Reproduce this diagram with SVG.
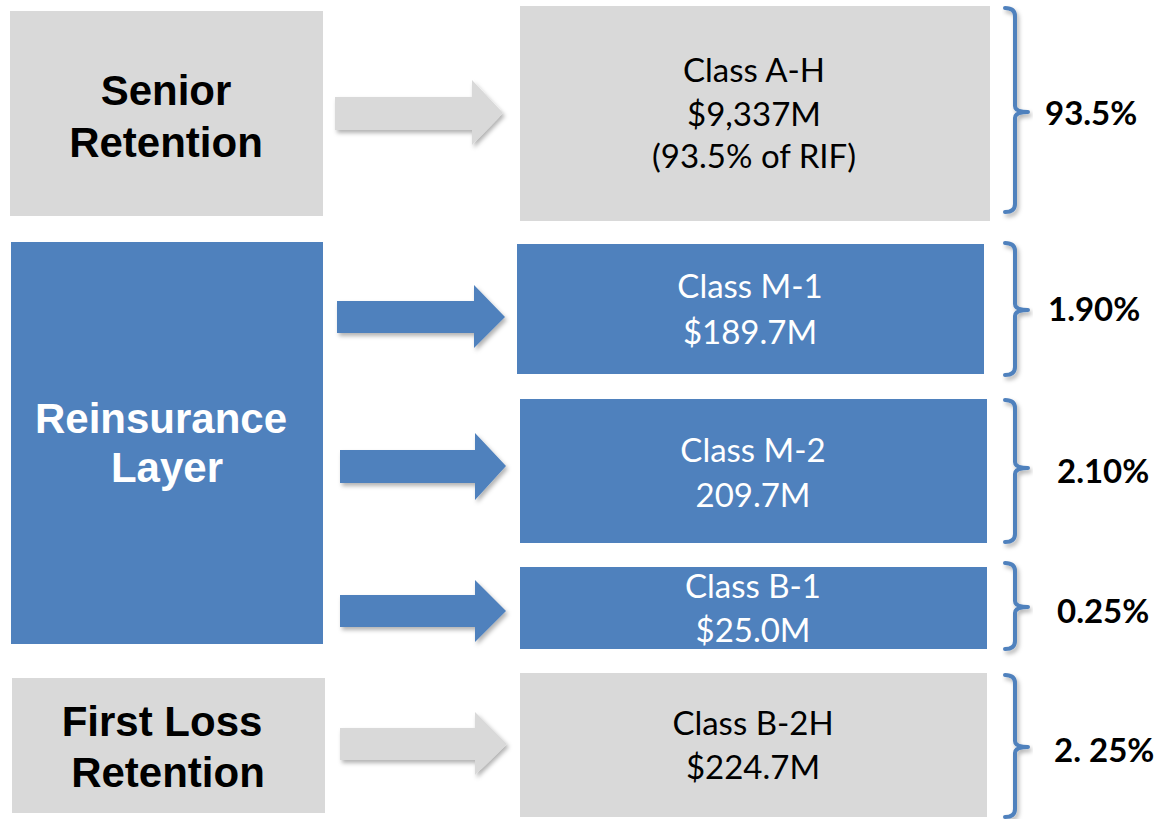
<svg xmlns="http://www.w3.org/2000/svg" width="1155" height="819" viewBox="0 0 1155 819">
<defs>
<filter id="sh" x="-10%" y="-10%" width="130%" height="130%">
<feDropShadow dx="2" dy="3" stdDeviation="2" flood-color="#000" flood-opacity="0.3"/>
</filter>
<style>
.gray{fill:#D9D9D9}
.blue{fill:#4F81BD}
.lt{font-family:"Liberation Sans",Arial,sans-serif;font-weight:bold;font-size:42px;text-anchor:middle}
.ct{font-family:Lato,"Open Sans",sans-serif;font-size:33px;text-anchor:middle}
.pt{font-family:Lato,"Open Sans",sans-serif;font-weight:bold;font-size:33px}
.brace{fill:none;stroke:#4F81BD;stroke-width:4;stroke-linecap:round;stroke-linejoin:round}
</style>
</defs>
<rect width="1155" height="819" fill="#fff"/>

<g id="senior-retention">
<rect class="gray" x="10" y="11" width="313" height="205"/>
<text class="lt" x="166" y="105" fill="#000">Senior</text>
<text class="lt" x="166" y="157" fill="#000">Retention</text>
</g>
<g id="reinsurance-layer">
<rect class="blue" x="11" y="242" width="312" height="402"/>
<text class="lt" x="161" y="433" fill="#fff">Reinsurance</text>
<text class="lt" x="167" y="482" fill="#fff">Layer</text>
</g>
<g id="first-loss-retention">
<rect class="gray" x="12" y="678" width="313" height="135"/>
<text class="lt" x="162" y="736" fill="#000">First Loss</text>
<text class="lt" x="168" y="787" fill="#000">Retention</text>
</g>

<g id="class-a-h">
<rect class="gray" x="520" y="6" width="470" height="215"/>
<text class="ct" x="754" y="82" fill="#000">Class A-H</text>
<text class="ct" x="754" y="126" fill="#000">$9,337M</text>
<text class="ct" x="754" y="168" fill="#000">(93.5% of RIF)</text>
</g>
<g id="class-m-1">
<rect class="blue" x="517" y="244" width="467" height="130"/>
<text class="ct" x="750" y="298" fill="#fff">Class M-1</text>
<text class="ct" x="750" y="344" fill="#fff">$189.7M</text>
</g>
<g id="class-m-2">
<rect class="blue" x="520" y="399" width="467" height="144"/>
<text class="ct" x="753" y="462" fill="#fff">Class M-2</text>
<text class="ct" x="753" y="507" fill="#fff">209.7M</text>
</g>
<g id="class-b-1">
<rect class="blue" x="520" y="567" width="467" height="82"/>
<text class="ct" x="753" y="598" fill="#fff">Class B-1</text>
<text class="ct" x="753" y="642" fill="#fff">$25.0M</text>
</g>
<g id="class-b-2h">
<rect class="gray" x="520" y="673" width="467" height="144"/>
<text class="ct" x="753" y="735" fill="#000">Class B-2H</text>
<text class="ct" x="753" y="779" fill="#000">$224.7M</text>
</g>

<g id="connectors">
<path class="gray" filter="url(#sh)" d="M335,97 H472 V80 L503,113 L472,145 V130 H335 Z"/>
<path class="blue" filter="url(#sh)" d="M337,301 H474 V285 L505,317 L474,348 V333 H337 Z"/>
<path class="blue" filter="url(#sh)" d="M340,450 H475 V433 L506,466 L475,500 V483 H340 Z"/>
<path class="blue" filter="url(#sh)" d="M340,595 H475 V580 L506,611 L475,642 V627 H340 Z"/>
<path class="gray" filter="url(#sh)" d="M340,728 H475 V712 L507,744 L475,775 V760 H340 Z"/>
</g>

<g id="braces" filter="url(#sh)">
<path class="brace" d="M1005,8 Q1015,8 1015,16 V106 Q1015,112 1028,112 Q1015,112 1015,118 V204 Q1015,212 1005,212"/>
<path class="brace" d="M1005,243 Q1015,243 1015,251 V304 Q1015,310 1028,310 Q1015,310 1015,316 V367 Q1015,375 1005,375"/>
<path class="brace" d="M1005,400 Q1015,400 1015,408 V462 Q1015,468 1028,468 Q1015,468 1015,474 V534 Q1015,542 1005,542"/>
<path class="brace" d="M1005,563 Q1015,563 1015,571 V601 Q1015,607 1028,607 Q1015,607 1015,613 V641 Q1015,649 1005,649"/>
<path class="brace" d="M1005,675 Q1015,675 1015,683 V741 Q1015,747 1028,747 Q1015,747 1015,753 V809 Q1015,817 1005,817"/>
</g>

<g id="percent-labels">
<text class="pt" x="1045" y="125">93.5%</text>
<text class="pt" x="1048" y="321">1.90%</text>
<text class="pt" x="1057" y="483">2.10%</text>
<text class="pt" x="1057" y="623">0.25%</text>
<text class="pt" x="1054" y="762">2. 25%</text>
</g>
</svg>
